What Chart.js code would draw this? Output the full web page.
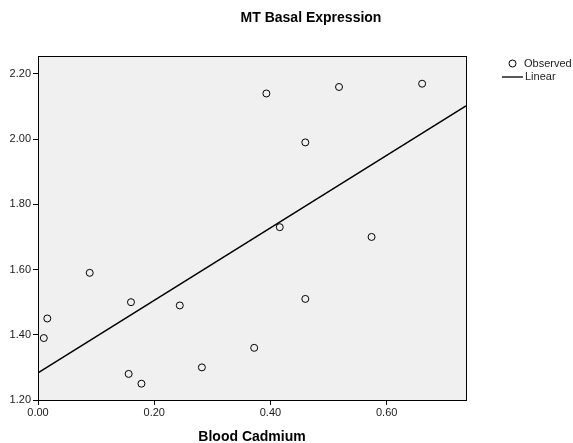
<!DOCTYPE html>
<html>
<head>
<meta charset="utf-8">
<script src="https://cdn.jsdelivr.net/npm/chart.js@4"></script>
<style>
  html, body { margin: 0; padding: 0; background: #fff; }
  #wrap { width: 573px; height: 443px; }
</style>
</head>
<body>
<div id="wrap"><canvas id="chart" width="573" height="443"></canvas></div>
<script>
// values
const cadmium = [0.010, 0.016, 0.089, 0.160, 0.156, 0.178, 0.244, 0.282, 0.372, 0.393, 0.416, 0.460, 0.460, 0.518, 0.574, 0.661];
const basalMT = [1.39, 1.45, 1.59, 1.50, 1.28, 1.25, 1.49, 1.30, 1.36, 2.14, 1.73, 1.99, 1.51, 2.16, 1.70, 2.17];
// fitted line, two ends
const fitX = [0, 0.7365];
const fitY = [1.283, 2.102];
const xTicks = [0.00, 0.20, 0.40, 0.60];
const yTicks = [1.20, 1.40, 1.60, 1.80, 2.00, 2.20];

const FONT = 'Arial, "Liberation Sans", sans-serif';

const observed = cadmium.map((x, i) => ({ x: x, y: basalMT[i] }));
const linear = fitX.map((x, i) => ({ x: x, y: fitY[i] }));

const decor = {
  id: 'decor',
  beforeDraw(chart) {
    const { ctx, chartArea: a } = chart;
    ctx.save();
    ctx.fillStyle = '#f0f0f0';
    ctx.fillRect(a.left, a.top, a.right - a.left, a.bottom - a.top);
    ctx.restore();
  },
  afterDraw(chart) {
    const { ctx, chartArea: a } = chart;
    ctx.save();
    ctx.strokeStyle = '#000';
    ctx.lineWidth = 1;
    ctx.strokeRect(Math.round(a.left) + 0.5, Math.round(a.top) + 0.5,
      Math.round(a.right - a.left), Math.round(a.bottom - a.top));

    // title
    ctx.fillStyle = '#000';
    ctx.font = 'bold 14px ' + FONT;
    ctx.textAlign = 'center';
    ctx.textBaseline = 'middle';
    ctx.fillText('MT Basal Expression', 311, 18);

    // legend
    ctx.font = '11px ' + FONT;
    ctx.textAlign = 'left';
    ctx.fillStyle = '#222';
    ctx.beginPath();
    ctx.arc(512.5, 63.5, 3.5, 0, Math.PI * 2);
    ctx.stroke();
    ctx.fillText('Observed', 524, 64);
    ctx.lineWidth = 1.3;
    ctx.beginPath();
    ctx.moveTo(502, 77);
    ctx.lineTo(523, 77);
    ctx.stroke();
    ctx.fillText('Linear', 525, 77);
    ctx.restore();
  }
};

new Chart(document.getElementById('chart'), {
  type: 'scatter',
  data: {
    datasets: [
      {
        label: 'Observed',
        data: observed,
        pointStyle: 'circle',
        pointRadius: 3.5,
        pointHoverRadius: 3.5,
        pointBackgroundColor: 'rgba(0,0,0,0)',
        pointBorderColor: '#000',
        pointBorderWidth: 1
      },
      {
        label: 'Linear',
        type: 'line',
        data: linear,
        showLine: true,
        borderColor: '#000',
        borderWidth: 1.5,
        pointRadius: 0,
        fill: false
      }
    ]
  },
  options: {
    responsive: false,
    animation: false,
    layout: { padding: { top: 56, right: 107, left: 0, bottom: 0 } },
    plugins: { legend: { display: false }, tooltip: { enabled: false } },
    scales: {
      x: {
        type: 'linear',
        min: 0,
        max: 0.7365,
        afterFit(s) { s.height = 43; },
        afterBuildTicks(s) { s.ticks = xTicks.map(v => ({ value: v })); },
        ticks: {
          includeBounds: false,
          padding: 1,
          color: '#1a1a1a',
          font: { family: FONT, size: 11 },
          callback: v => Number(v).toFixed(2)
        },
        grid: { drawOnChartArea: false, drawTicks: true, tickLength: 5, color: '#000' },
        border: { display: true, color: '#000' },
        title: {
          display: true,
          text: 'Blood Cadmium',
          color: '#000',
          font: { family: FONT, size: 14, weight: 'bold' },
          padding: { top: 0, bottom: -3 }
        }
      },
      y: {
        type: 'linear',
        min: 1.2,
        max: 2.255,
        afterFit(s) { s.width = 38; },
        afterBuildTicks(s) { s.ticks = yTicks.map(v => ({ value: v })); },
        ticks: {
          includeBounds: false,
          padding: 2,
          color: '#1a1a1a',
          font: { family: FONT, size: 11 },
          callback: v => Number(v).toFixed(2)
        },
        grid: { drawOnChartArea: false, drawTicks: true, tickLength: 5, color: '#000' },
        border: { display: true, color: '#000' }
      }
    }
  },
  plugins: [decor]
});
</script>
</body>
</html>
